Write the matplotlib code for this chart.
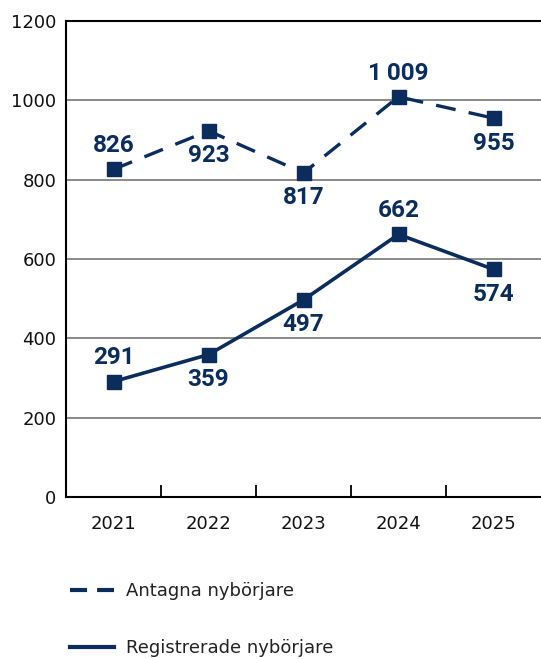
import matplotlib
matplotlib.use("Agg")
import matplotlib.pyplot as plt
from matplotlib.lines import Line2D

years = ["2021", "2022", "2023", "2024", "2025"]
antagna = [826, 923, 817, 1009, 955]
registrerade = [291, 359, 497, 662, 574]
antagna_labels = ["826", "923", "817", "1\u2009009", "955"]
registrerade_labels = ["291", "359", "497", "662", "574"]
antagna_pos = ["above", "below", "below", "above", "below"]
registrerade_pos = ["above", "below", "below", "above", "below"]
yticks = [0, 200, 400, 600, 800, 1000, 1200]

plt.rcParams['font.family'] = ['Roboto', 'DejaVu Sans']
navy = "#0b2d5e"

fig = plt.figure(figsize=(5.41, 6.59), dpi=100)
ax = fig.add_axes([66/541, 1-497/659, 1-66/541, (497-21)/659])

x = list(range(len(years)))
l1, = ax.plot(x, antagna, color=navy, lw=2.4, marker="s", ms=9.5,
              dashes=(6, 4), zorder=3)
l2, = ax.plot(x, registrerade, color=navy, lw=2.6, marker="s", ms=9.5,
              zorder=3)

for xs, vals, labs, poss in [(x, antagna, antagna_labels, antagna_pos),
                             (x, registrerade, registrerade_labels, registrerade_pos)]:
    for xi, v, lab, p in zip(xs, vals, labs, poss):
        off = 17 if p == "above" else -18
        ax.annotate(lab, (xi, v), xytext=(0, off), textcoords="offset points",
                    ha="center", va="center", fontsize=17.5, fontweight="bold",
                    family=["Roboto", "DejaVu Sans"],
                    color=navy, zorder=4)

ax.set_xlim(-0.5, len(years) - 0.5)
ax.set_ylim(0, 1200)
ax.set_yticks(yticks)
ax.set_yticklabels([str(t) for t in yticks], family="DejaVu Sans")
ax.set_xticks(x)
ax.set_xticklabels(years, family="DejaVu Sans")
ax.set_xticks([i + 0.5 for i in range(len(years) - 1)], minor=True)
ax.tick_params(axis="x", which="major", length=0, pad=13, labelsize=13, colors="#111111")
ax.tick_params(axis="x", which="minor", length=8.5, width=1.3, direction="in", color="black")
ax.tick_params(axis="y", length=0, pad=7, labelsize=13, colors="#111111")

for yv in yticks[1:-1]:
    ax.axhline(yv, color="#777777", lw=1.2, zorder=1)

for s in ["left", "bottom", "top"]:
    ax.spines[s].set_color("black")
    ax.spines[s].set_linewidth(1.5)
ax.spines["right"].set_visible(False)

h1 = Line2D([], [], color=navy, lw=3, dashes=(4.1, 2.4))
h2 = Line2D([], [], color=navy, lw=3)
fig.legend([h1, h2], ["Antagna nybörjare", "Registrerade nybörjare"],
           loc="upper left", bbox_to_anchor=(54/541, 1-566/659), frameon=False,
           prop={"family": "DejaVu Sans", "size": 13},
           handlelength=2.44, handletextpad=0.65, labelspacing=2.15,
           labelcolor="#222222")

fig.savefig("out.png", dpi=100)
